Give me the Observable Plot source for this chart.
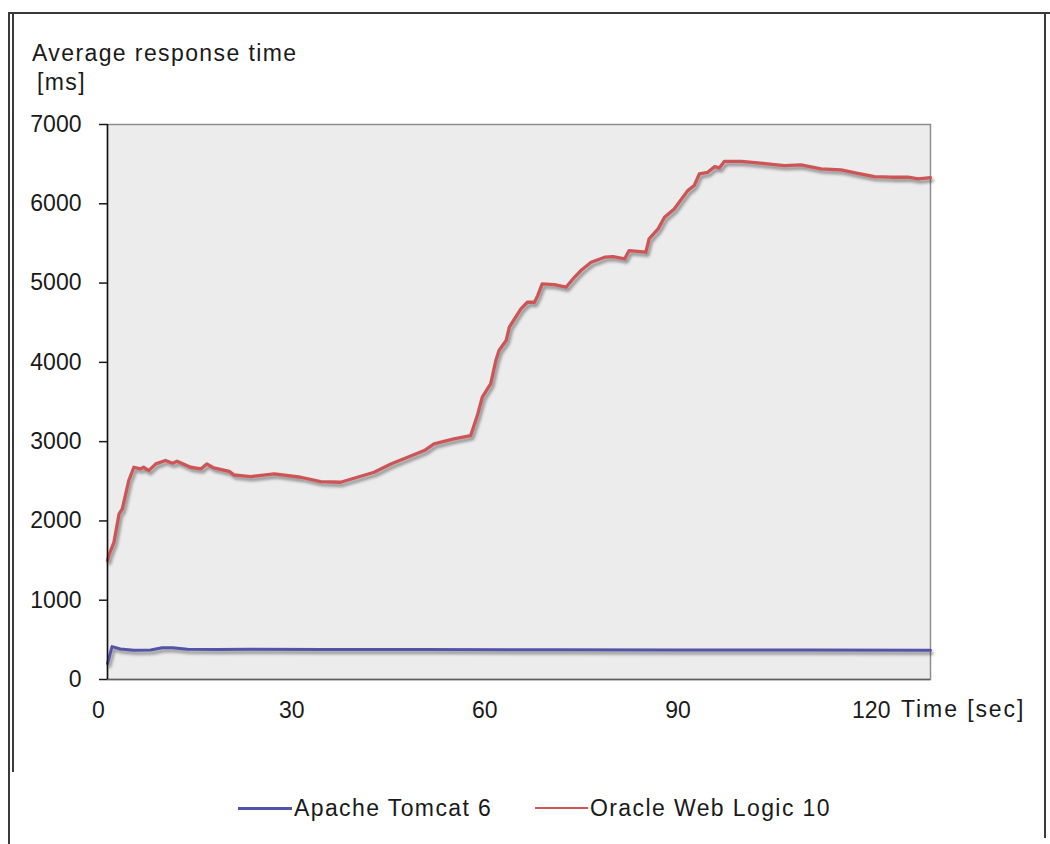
<!DOCTYPE html>
<html>
<head>
<meta charset="utf-8">
<script src="https://cdn.jsdelivr.net/npm/d3@7"></script>
<script src="https://cdn.jsdelivr.net/npm/@observablehq/plot@0.6"></script>
<style>
  html, body { margin: 0; padding: 0; background: #fff; }
  #page {
    position: relative; width: 1050px; height: 844px; overflow: hidden;
    font-family: "Liberation Sans", Arial, sans-serif; color: #1a1a1a;
  }
  .txt { position: absolute; font-size: 23px; line-height: 23px; letter-spacing: 1.4px; white-space: nowrap; }
  .rule { position: absolute; background: #3a3a3a; }
  .swatch { position: absolute; }
  #chart { position: absolute; left: 0; top: 0; }
</style>
</head>
<body>
<div id="page">
  <!-- outer frame -->
  <div class="rule" style="left:8px; top:12px; width:1042px; height:2px;"></div>
  <div class="rule" style="left:8px; top:12px; width:2px; height:832px;"></div>
  <div class="rule" style="left:12px; top:12px; width:2px; height:760px;"></div>
  <div class="rule" style="left:1044px; top:12px; width:2px; height:826px;"></div>

  <div id="chart"></div>

  <!-- axis titles -->
  <div class="txt" style="left:32px; top:41.5px;">Average response time</div>
  <div class="txt" style="left:37px; top:70.5px;">[ms]</div>
  <div class="txt" style="left:901px; top:698px; letter-spacing:1.9px;">Time [sec]</div>

  <!-- legend -->
  <div id="legend"></div>
</div>

<script>
// Axis ticks
const tickSeconds = [0, 30, 60, 90, 120];
const tickMs = [0, 1000, 2000, 3000, 4000, 5000, 6000, 7000];

// Series names and colours
const seriesNames = ["Apache Tomcat 6", "Oracle Web Logic 10"];
const seriesColors = ["#5353a7", "#cd5555"];

// Apache Tomcat 6: time [sec] and average response time [ms]
const tomcatTime = [1.4, 2.1, 3.4, 5.5, 8.1, 9.9, 11.5, 13.8, 18.5, 23.6, 35, 50, 70, 90, 110, 129.2];
const tomcatMs   = [200, 415, 385, 368, 372, 400, 400, 383, 378, 383, 378, 378, 375, 372, 372, 370];

// Oracle Web Logic 10: time [sec] and average response time [ms]
const weblogicTime = [
  1.4, 1.6, 2.4, 3.2, 3.7, 4.7, 5.5, 6.5, 7.0, 7.8, 8.9, 10.4, 11.5, 12.2, 14.3, 15.9,
  16.8, 17.9, 20.3, 21.0, 23.6, 27.3, 31.4, 34.5, 37.6, 40.2, 42.8, 45.4, 48.0, 50.6,
  52.1, 55.2, 57.8, 58.9, 59.6, 60.4, 60.9, 61.7, 62.2, 63.3, 63.8, 64.6, 65.6, 66.6,
  67.7, 68.2, 68.9, 70.8, 72.6, 73.9, 74.9, 76.5, 78.6, 79.9, 81.7, 82.4, 85.0, 85.5,
  86.9, 87.9, 89.4, 91.5, 92.5, 93.3, 94.6, 95.7, 96.4, 97.2, 99.8, 102.4, 106.5,
  109.1, 112.2, 115.3, 117.9, 120.5, 123.1, 125.7, 127.3, 129.2
];
const weblogicMs = [
  1500, 1564, 1731, 2089, 2152, 2510, 2677, 2656, 2677, 2635, 2719, 2762, 2728, 2753, 2677, 2656,
  2719, 2668, 2626, 2581, 2560, 2593, 2551, 2497, 2488, 2551, 2614, 2719, 2803, 2888,
  2972, 3035, 3077, 3350, 3560, 3665, 3728, 4023, 4149, 4275, 4443, 4548, 4674, 4758,
  4758, 4842, 4989, 4981, 4948, 5073, 5158, 5262, 5326, 5334, 5305, 5410, 5389, 5557,
  5683, 5830, 5935, 6166, 6230, 6376, 6397, 6469, 6452, 6536, 6536, 6515, 6482,
  6490, 6440, 6427, 6385, 6343, 6335, 6335, 6313, 6330
];

const toRows = (ts, vs) => ts.map((t, i) => ({t, v: vs[i]}));
const tomcat = toRows(tomcatTime, tomcatMs);
const weblogic = toRows(weblogicTime, weblogicMs);

const xStart = tomcatTime[0];
const xEnd = tomcatTime[tomcatTime.length - 1];

const chart = Plot.plot({
  width: 1050,
  height: 740,
  marginLeft: 107,
  marginRight: 120,
  marginTop: 124,
  marginBottom: 61,
  style: {
    fontFamily: "'Liberation Sans', Arial, sans-serif",
    fontSize: "23px",
    color: "#1a1a1a",
    background: "transparent",
    overflow: "visible"
  },
  x: {domain: [xStart, xEnd]},
  y: {domain: [tickMs[0], tickMs[tickMs.length - 1]]},
  marks: [
    Plot.frame({fill: "#ececec", stroke: "#8e8e8e", strokeWidth: 1.5}),
    Plot.ruleY([tickMs[0]], {stroke: "#5e5e5e", strokeWidth: 1.5}),
    Plot.line(tomcat, {x: "t", y: "v", stroke: seriesColors[0], strokeWidth: 3}),
    Plot.line(weblogic, {x: "t", y: "v", stroke: seriesColors[1], strokeWidth: 3.3}),
    Plot.ruleX([xStart], {stroke: "#111", strokeWidth: 1.5}),
    Plot.axisY({
      ticks: tickMs, tickSize: 8, tickPadding: 18, strokeWidth: 1.5,
      tickFormat: d => String(d), label: null, fontSize: 23
    }),
    Plot.axisX({
      ticks: tickSeconds, tickSize: 0, tickPadding: 22,
      tickFormat: d => String(d), label: null, fontSize: 23
    })
  ]
});

// soft shadow under the series lines
d3.select(chart).selectAll('g[aria-label="line"]')
  .style("filter", "drop-shadow(2px 3px 1.6px rgba(0,0,0,0.4))");

document.getElementById("chart").appendChild(chart);

// legend below the chart
const legendItems = [
  {name: seriesNames[0], color: seriesColors[0], lineLeft: 238, textLeft: 294, thick: 3},
  {name: seriesNames[1], color: seriesColors[1], lineLeft: 535, textLeft: 590, thick: 1.5}
];
const legend = d3.select("#legend");
for (const item of legendItems) {
  legend.append("div").attr("class", "swatch")
    .style("left", item.lineLeft + "px")
    .style("top", (808 - item.thick / 2) + "px")
    .style("width", (item.textLeft - item.lineLeft - 2) + "px")
    .style("height", item.thick + "px")
    .style("background", item.color);
  legend.append("div").attr("class", "txt")
    .style("left", item.textLeft + "px")
    .style("top", "796.5px")
    .text(item.name);
}
</script>
</body>
</html>
